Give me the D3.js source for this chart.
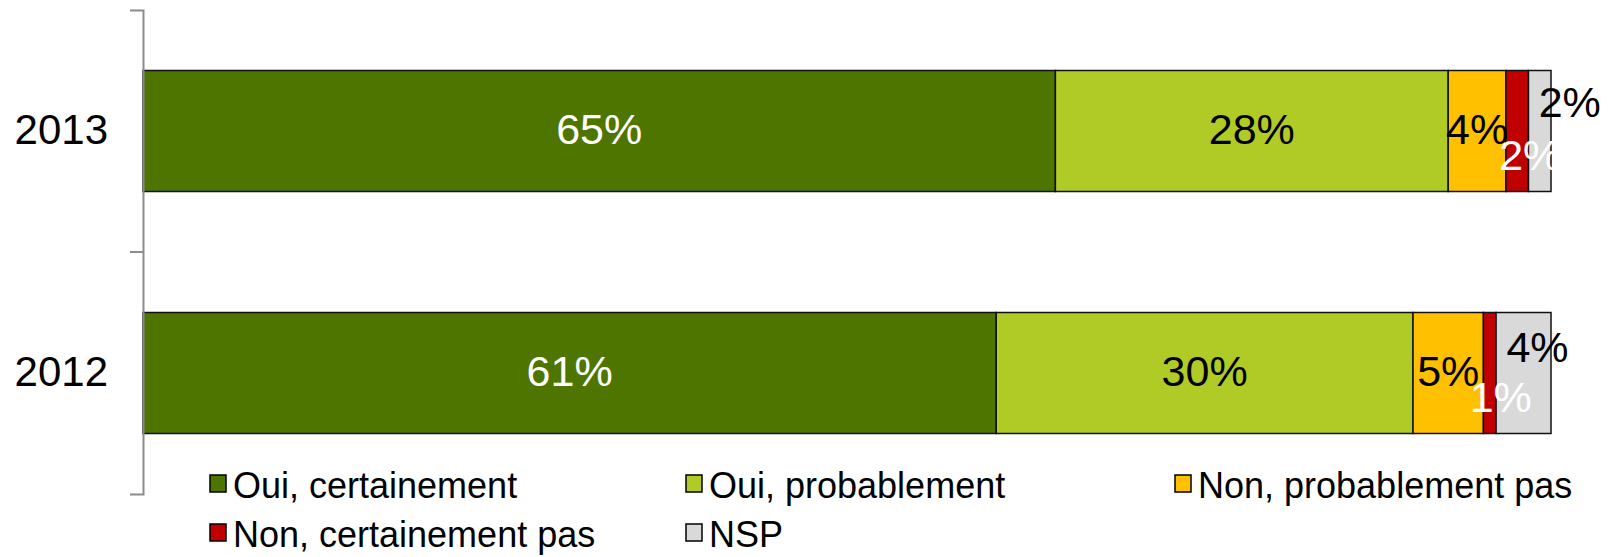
<!DOCTYPE html>
<html>
<head>
<meta charset="utf-8">
<script src="https://cdn.jsdelivr.net/npm/d3@7"></script>
<style>
  html, body { margin: 0; padding: 0; background: #fff; }
  svg { display: block; font-family: "Liberation Sans", Arial, sans-serif; }
</style>
</head>
<body>
<svg id="chart" width="1612" height="557"></svg>
<script>
// ---- data ----
const categories = ["2013", "2012"];
const seriesNames = ["Oui, certainement", "Oui, probablement", "Non, probablement pas", "Non, certainement pas", "NSP"];
const values2013 = [64.8, 27.9, 4.1, 1.6, 1.6];
const values2012 = [60.6, 29.6, 5.0, 0.9, 3.9];
const seriesColors = ["#4E7500", "#B0CB25", "#FFC000", "#C00000", "#D9D9D9"];
const labelColors = ["#fff", "#000", "#000", "#fff", "#000"];

const rows = categories.map((c, i) => {
  const vals = [values2013, values2012][i];
  const o = { cat: c };
  seriesNames.forEach((s, j) => o[s] = vals[j]);
  return o;
});

const svg = d3.select("#chart");

const x = d3.scaleLinear().domain([0, 1]).range([143, 1551]);
const y = d3.scaleBand().domain(categories).range([10, 494]).paddingInner(0.5).paddingOuter(0.25);

const stack = d3.stack().keys(seriesNames).offset(d3.stackOffsetExpand);
const stacked = stack(rows);

// bars
const g = svg.append("g");
stacked.forEach((layer, si) => {
  g.selectAll(null).data(layer).enter().append("rect")
    .attr("x", d => x(d[0]))
    .attr("y", d => y(d.data.cat))
    .attr("width", d => x(d[1]) - x(d[0]))
    .attr("height", y.bandwidth())
    .attr("fill", seriesColors[si])
    .attr("stroke", "#111")
    .attr("stroke-width", 1.5);
});

// value labels (small segments nudged like the original)
const nudges = {
  "2013|3": [13, 26], "2013|4": [30, -27],
  "2012|3": [11, 26], "2012|4": [14, -24]
};
const fmt = d3.format(".0%");
stacked.forEach((layer, si) => {
  g.selectAll(null).data(layer).enter().append("text")
    .attr("x", d => (x(d[0]) + x(d[1])) / 2 + ((nudges[d.data.cat + "|" + si] || [0, 0])[0]))
    .attr("y", d => y(d.data.cat) + y.bandwidth() / 2 - 2 + ((nudges[d.data.cat + "|" + si] || [0, 0])[1]))
    .attr("text-anchor", "middle")
    .attr("dominant-baseline", "central")
    .attr("font-size", 43)
    .attr("fill", labelColors[si])
    .text(d => fmt(d.data[seriesNames[si]] / 100));
});

// category axis
const axis = d3.axisLeft(y).tickSize(0).tickSizeOuter(13).tickPadding(35);
const ax = svg.append("g").attr("transform", "translate(143,0)").call(axis);
ax.select(".domain").attr("stroke", "#8c8c8c").attr("stroke-width", 2);
ax.selectAll(".tick text").attr("font-size", 42).attr("fill", "#000")
  .attr("font-family", "Liberation Sans, Arial, sans-serif");
// boundary tick between categories
const boundaries = categories.slice(1).map(c => y(c) - y.step() * y.paddingInner() / 2);
ax.selectAll(null).data(boundaries).enter().append("line")
  .attr("x1", -13).attr("x2", 0)
  .attr("y1", d => d).attr("y2", d => d)
  .attr("stroke", "#8c8c8c").attr("stroke-width", 2);

// legend
const legendPos = [[210, 498], [686, 498], [1175, 498], [210, 547], [686, 547]];
const lg = svg.append("g");
seriesNames.forEach((s, i) => {
  const [lx, ly] = legendPos[i];
  lg.append("rect")
    .attr("x", lx).attr("y", ly - 23).attr("width", 16).attr("height", 17)
    .attr("fill", seriesColors[i]).attr("stroke", "#000").attr("stroke-width", 1.5);
  lg.append("text")
    .attr("x", lx + 23).attr("y", ly)
    .attr("font-size", 36).attr("fill", "#000")
    .text(s);
});
</script>
</body>
</html>
